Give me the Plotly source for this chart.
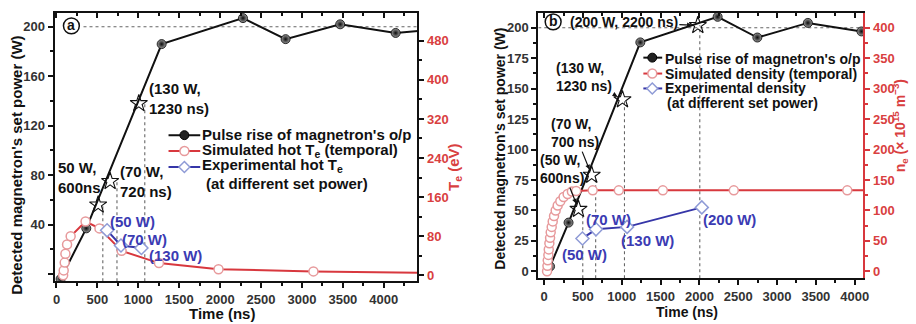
import plotly.graph_objects as go

W, H = 916, 324
FONT = "Liberation Sans, Arial, sans-serif"
BLACK = "#111111"
RED = "#d8383e"
RED_MK = "#e79a9c"
RED_TXT = "#d9403f"
BLUE = "#3636a8"
BLUE_MK = "#8f9bd6"
BLUE_TXT = "#3b3bb3"
GUIDE = "#666666"

# ---------------- panel (a) data ----------------
a_pulse_time = [50, 364, 1285, 2279, 2800, 3467, 4145, 4500]
a_pulse_power = [-4, 37, 186, 207, 190, 202, 195, 197]
a_star_time = [509, 655, 1006]
a_star_power = [56, 75, 138]
a_guide_time = [566, 739, 1079]
a_sim_time = [81, 88, 100, 109, 129, 173, 355, 525, 796, 1252, 1980, 3140, 4500]
a_sim_te = [0, 10, 26, 44, 63, 80, 110, 96, 50, 25, 12.5, 8, 5]
a_exp_time = [618, 788, 1038]
a_exp_te = [92, 61, 56]
a_exp_labels = ["(50 W)", "(70 W)", "(130 W)"]
a_star_labels = ["50 W,<br>600ns", "(70 W,<br>720 ns)", "(130 W,<br>1230 ns)"]
a_ref_power = 200
a_x_ticks = [0, 500, 1000, 1500, 2000, 2500, 3000, 3500, 4000]
a_yl_ticks = [0, 40, 80, 120, 160, 200]
a_yl_text = ["", "40", "80", "120", "160", "200"]
a_yr_ticks = [0, 80, 160, 240, 320, 400, 480]

# ---------------- panel (b) data ----------------
b_pulse_time = [77, 315, 1239, 2235, 2746, 3397, 4087, 4400]
b_pulse_power = [4, 40, 188, 209, 192, 204, 197, 198]
b_star_time = [443, 613, 1009, 1980]
b_star_power = [51, 79, 141, 202]
b_guide_time = [498, 664, 1035, 2005]
b_sim_time = [38, 43, 47, 55, 60, 68, 77, 85, 98, 111, 128, 149, 175, 209, 251,
              303, 358, 413, 626, 962, 1529, 2443, 3904, 4400]
b_sim_density = [0, 9, 18, 27, 36, 46, 55, 64, 73, 82, 91, 100, 108, 115, 122,
                 127, 131, 132, 133, 133, 133, 133, 133, 133]
b_exp_time = [494, 668, 1069, 2031]
b_exp_density = [54, 69, 73, 105]
b_exp_labels = ["(50 W)", "(70 W)", "(130 W)", "(200 W)"]
b_star_labels = ["(50 W,<br>600ns)", "(70 W,<br>700 ns)", "(130 W,<br>1230 ns)", "(200 W, 2200 ns)"]
b_ref_power = 200
b_x_ticks = [0, 500, 1000, 1500, 2000, 2500, 3000, 3500, 4000]
b_yl_ticks = [0, 25, 50, 75, 100, 125, 150, 175, 200]
b_yr_ticks = [0, 50, 100, 150, 200, 250, 300, 350, 400]

# axis ranges (layout)
A_X = [-24, 4410]
A_YL = [-5.8, 211.2]
A_YR = [-12.2, 537]
B_X = [-75, 4112]
B_YL = [-5.7, 212.2]
B_YR = [-11.4, 424.4]


def px(x):
    return x / W


def py(y):
    return 1 - y / H


def guides(times, tops, bottom):
    xs, ys = [], []
    for t, top in zip(times, tops):
        xs += [t, t, None]
        ys += [bottom, top, None]
    return xs, ys


def mids(v):
    return [(v[i] + v[i + 1]) / 2 for i in range(len(v) - 1)]


fig = go.Figure()

pulse_marker = dict(symbol="circle", size=9, color="#9a9a9a",
                    gradient=dict(type="radial", color="#0a0a0a"),
                    line=dict(color="#000", width=0.8))
sim_marker = dict(symbol="circle", size=9, color="white", line=dict(color=RED_MK, width=1.5))
exp_marker = dict(symbol="diamond", size=10, color="white", line=dict(color=BLUE_MK, width=1.5))
star_marker = dict(symbol="star-open", size=13, color=BLACK, line=dict(color=BLACK, width=1.1))
guide_line = dict(color=GUIDE, width=1.1, dash="dot")

# ---- panel a traces ----
gx, gy = guides(a_guide_time, a_star_power, A_YL[0])
fig.add_trace(go.Scatter(x=gx, y=gy, mode="lines", line=guide_line, xaxis="x", yaxis="y"))
fig.add_trace(go.Scatter(x=[330, A_X[1] + 40], y=[a_ref_power, a_ref_power], mode="lines",
                         line=guide_line, xaxis="x", yaxis="y"))
fig.add_trace(go.Scatter(x=a_pulse_time, y=a_pulse_power, mode="lines+markers",
                         line=dict(color=BLACK, width=2), marker=pulse_marker,
                         xaxis="x", yaxis="y"))
fig.add_trace(go.Scatter(x=a_sim_time, y=a_sim_te, mode="lines+markers",
                         line=dict(color=RED, width=2), marker=sim_marker,
                         xaxis="x", yaxis="y2"))
fig.add_trace(go.Scatter(x=a_exp_time, y=a_exp_te, mode="lines+markers",
                         line=dict(color=BLUE, width=2), marker=exp_marker,
                         xaxis="x", yaxis="y2"))
fig.add_trace(go.Scatter(x=a_star_time, y=a_star_power, mode="markers",
                         marker=star_marker, xaxis="x", yaxis="y"))
fig.add_trace(go.Scatter(x=[], y=[], xaxis="x3", yaxis="y"))

# ---- panel b traces ----
gx, gy = guides(b_guide_time, b_star_power, B_YL[0])
fig.add_trace(go.Scatter(x=gx, y=gy, mode="lines", line=guide_line, xaxis="x2", yaxis="y3"))
fig.add_trace(go.Scatter(x=[B_X[0], B_X[1]], y=[b_ref_power, b_ref_power], mode="lines",
                         line=guide_line, xaxis="x2", yaxis="y3"))
fig.add_trace(go.Scatter(x=b_pulse_time, y=b_pulse_power, mode="lines+markers",
                         line=dict(color=BLACK, width=2), marker=pulse_marker,
                         xaxis="x2", yaxis="y3"))
fig.add_trace(go.Scatter(x=b_sim_time, y=b_sim_density, mode="lines+markers",
                         line=dict(color=RED, width=2), marker=sim_marker,
                         xaxis="x2", yaxis="y4"))
fig.add_trace(go.Scatter(x=b_exp_time, y=b_exp_density, mode="lines+markers",
                         line=dict(color=BLUE, width=2), marker=exp_marker,
                         xaxis="x2", yaxis="y4"))
fig.add_trace(go.Scatter(x=b_star_time, y=b_star_power, mode="markers",
                         marker=star_marker, xaxis="x2", yaxis="y3"))
fig.add_trace(go.Scatter(x=[], y=[], xaxis="x4", yaxis="y3"))

tickfont = dict(family=FONT, size=13, color="#333", weight="bold")
redfont = dict(family=FONT, size=13, color=RED_TXT, weight="bold")
common = dict(showline=True, linewidth=2, linecolor=BLACK, ticks="outside", ticklen=5,
              tickwidth=1.5, tickcolor=BLACK, showgrid=False, zeroline=False,
              tickfont=tickfont, tickmode="array")

fig.update_layout(
    width=W, height=H, autosize=False, margin=dict(l=0, r=0, t=0, b=0),
    paper_bgcolor="white", plot_bgcolor="white", showlegend=False,
    xaxis=dict(domain=[px(53), px(419)], range=A_X, anchor="y", tickvals=a_x_ticks,
               minor=dict(tickvals=mids(a_x_ticks) + [4250], ticks="outside", ticklen=3,
                          tickcolor=BLACK), **common),
    xaxis3=dict(domain=[px(53), px(419)], range=A_X, anchor="y", overlaying="x", side="top",
                showline=True, linewidth=2, linecolor=BLACK, ticks="inside", ticklen=5,
                tickwidth=1.5, tickcolor=BLACK, showgrid=False, zeroline=False,
                showticklabels=False, tickmode="array", tickvals=a_x_ticks,
                minor=dict(tickvals=mids(a_x_ticks) + [4250], ticks="inside", ticklen=3,
                           tickcolor=BLACK)),
    yaxis=dict(domain=[py(283), py(13)], range=A_YL, anchor="x", tickvals=a_yl_ticks,
               ticktext=a_yl_text,
               minor=dict(tickvals=mids(a_yl_ticks), ticks="outside", ticklen=3,
                          tickcolor=BLACK), **common),
    yaxis2=dict(range=A_YR, anchor="x", overlaying="y", side="right",
                showline=True, linewidth=2, linecolor=BLACK, ticks="outside", ticklen=5,
                tickwidth=1.5, tickcolor=BLACK, showgrid=False, zeroline=False,
                tickfont=redfont, tickmode="array", tickvals=a_yr_ticks,
                minor=dict(tickvals=mids(a_yr_ticks), ticks="outside", ticklen=3,
                           tickcolor=BLACK)),
    xaxis2=dict(domain=[px(541), px(869)], range=B_X, anchor="y3", tickvals=b_x_ticks,
                minor=dict(tickvals=mids(b_x_ticks), ticks="outside", ticklen=3,
                           tickcolor=BLACK), **common),
    xaxis4=dict(domain=[px(541), px(869)], range=B_X, anchor="y3", overlaying="x2",
                side="top", showline=True, linewidth=2, linecolor=BLACK, ticks="inside",
                ticklen=5, tickwidth=1.5, tickcolor=BLACK, showgrid=False, zeroline=False,
                showticklabels=False, tickmode="array", tickvals=b_x_ticks,
                minor=dict(tickvals=mids(b_x_ticks), ticks="inside", ticklen=3,
                           tickcolor=BLACK)),
    yaxis3=dict(domain=[py(280), py(13)], range=B_YL, anchor="x2", tickvals=b_yl_ticks,
                minor=dict(tickvals=mids(b_yl_ticks), ticks="outside", ticklen=3,
                           tickcolor=BLACK), **common),
    yaxis4=dict(range=B_YR, anchor="x2", overlaying="y3", side="right",
                showline=True, linewidth=2, linecolor=RED, ticks="outside", ticklen=5,
                tickwidth=1.5, tickcolor=RED, showgrid=False, zeroline=False,
                tickfont=redfont, tickmode="array", tickvals=b_yr_ticks,
                minor=dict(tickvals=mids(b_yr_ticks), ticks="outside", ticklen=3,
                           tickcolor=RED)),
)

ann = []


def txt(text, x, y, size=15, color=BLACK, xref="paper", yref="paper", xanchor="center",
        yanchor="middle", angle=0, align="left"):
    ann.append(dict(text=text, x=x, y=y, xref=xref, yref=yref, xanchor=xanchor,
                    yanchor=yanchor, showarrow=False, textangle=angle, align=align,
                    font=dict(family=FONT, size=size, color=color, weight="bold")))


# axis titles
txt("Detected magnetron's set power (W)", px(15), py(166), size=15, angle=-90)
txt("Time (ns)", px(222), py(315), size=15)
txt("T<sub>e</sub> (eV)", px(457), py(168), size=15, color=RED_TXT, angle=-90)
txt("Detected magnetron's set power (W)", px(502), py(150), size=14, angle=-90)
txt("Time (ns)", px(691), py(314), size=14)
txt("n<sub>e</sub> (× 10<sup>15</sup> m<sup>−3</sup>)", px(906), py(127), size=14,
    color=RED_TXT, angle=-90)

# panel a labels
a_star_label_pos = [(0, 78), (752, 75), (1103, 142)]
for lab, (x, y) in zip(a_star_labels, a_star_label_pos):
    txt(lab, x, y, xref="x", yref="y", xanchor="left")
a_exp_label_pos = [(933, 110), (1070, 73), (1455, 41)]
for lab, (x, y) in zip(a_exp_labels, a_exp_label_pos):
    txt(lab, x, y, color=BLUE_TXT, xref="x", yref="y2")

# panel b labels
b_exp_label_pos = [(524, 28, "center"), (830, 85, "center"), (1328, 50, "center"),
                   (2020, 85, "left")]
for lab, (x, y, xa) in zip(b_exp_labels, b_exp_label_pos):
    txt(lab, x, y, size=15, color=BLUE_TXT, xref="x2", yref="y4", xanchor=xa)

b_arrow_off = [(-16, -40), (-17, -42), (-38, -23), (-74, -3)]
for lab, t, p, (ax, ay) in zip(b_star_labels, b_star_time, b_star_power, b_arrow_off):
    ann.append(dict(text=lab, x=t, y=p, xref="x2", yref="y3", ax=ax, ay=ay,
                    showarrow=True, arrowhead=2, arrowsize=0.8, arrowwidth=1.2,
                    arrowcolor=BLACK, standoff=6, align="left",
                    font=dict(family=FONT, size=14, color=BLACK, weight="bold")))

# panel tags
shapes = []
for (cx, cy, tag) in [(70, 26, "a"), (556, 22, "b")]:
    shapes.append(dict(type="circle", xref="paper", yref="paper", x0=px(cx - 8), x1=px(cx + 8),
                       y0=py(cy + 8), y1=py(cy - 8), line=dict(color=BLACK, width=1.5),
                       fillcolor="white", layer="above"))
    txt(tag, px(cx), py(cy - 1), size=14)


# manual legends
def legend(x0, x1, cx, rows, texts, size):
    kinds = ["pulse", "sim", "exp"]
    cols = [BLACK, RED, BLUE]
    for k, col, yy in zip(kinds, cols, rows):
        shapes.append(dict(type="line", xref="paper", yref="paper", x0=px(x0), x1=px(x1),
                           y0=py(yy), y1=py(yy), line=dict(color=col, width=2)))
        r = 4.5
        if k == "pulse":
            shapes.append(dict(type="circle", xref="paper", yref="paper", x0=px(cx - r),
                               x1=px(cx + r), y0=py(yy + r), y1=py(yy - r),
                               fillcolor="#222", line=dict(color="#000", width=1)))
        elif k == "sim":
            shapes.append(dict(type="circle", xref="paper", yref="paper", x0=px(cx - r),
                               x1=px(cx + r), y0=py(yy + r), y1=py(yy - r),
                               fillcolor="white", line=dict(color=RED_MK, width=1.5)))
        else:
            d = 5.5
            path = (f"M {px(cx)},{py(yy - d)} L {px(cx + d)},{py(yy)} "
                    f"L {px(cx)},{py(yy + d)} L {px(cx - d)},{py(yy)} Z")
            shapes.append(dict(type="path", xref="paper", yref="paper", path=path,
                               fillcolor="white", line=dict(color=BLUE_MK, width=1.5)))
    for t, yy, xx in texts:
        txt(t, px(xx), py(yy), size=size, xanchor="left")


legend(168, 200, 184, [136, 152, 168],
       [("Pulse rise of magnetron's o/p", 135, 200),
        ("Simulated hot T<sub>e</sub> (temporal)", 151, 200),
        ("Experimental hot T<sub>e</sub>", 167, 200),
        ("(at different set power)", 185, 204)], 15)
legend(647, 666, 656, [58, 74, 89],
       [("Pulse rise of magnetron's o/p", 59, 667),
        ("Simulated density (temporal)", 74, 667),
        ("Experimental density", 89, 667),
        ("(at different set power)", 104, 669)], 14)

fig.update_layout(annotations=ann, shapes=shapes)
fig.write_html("out.html")
